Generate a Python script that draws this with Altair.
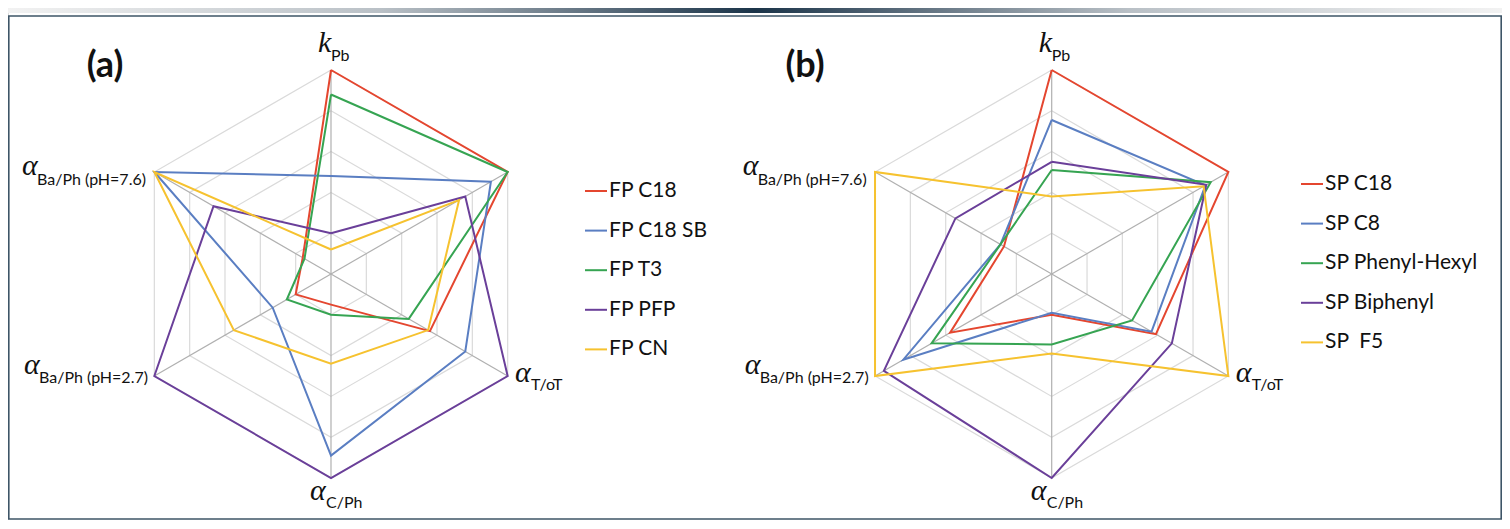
import altair as alt
import pandas as pd
import numpy as np

# ---------------- data ----------------
axis_names = ["k_Pb", "alpha_CH2", "alpha_T/oT", "alpha_C/Ph",
              "alpha_Ba/Ph (pH=2.7)", "alpha_Ba/Ph (pH=7.6)"]

series_a = ["FP C18", "FP C18 SB", "FP T3", "FP PFP", "FP CN"]
fp_c18 = [1.00, 1.00, 0.56, 0.15, 0.20, 0.16]
fp_c18sb = [0.48, 0.905, 0.76, 0.89, 0.33, 1.00]
fp_t3 = [0.88, 1.00, 0.44, 0.20, 0.25, 0.15]
fp_pfp = [0.20, 0.76, 1.00, 1.00, 1.00, 0.665]
fp_cn = [0.12, 0.725, 0.55, 0.44, 0.55, 1.00]
values_a = [fp_c18, fp_c18sb, fp_t3, fp_pfp, fp_cn]

series_b = ["SP C18", "SP C8", "SP Phenyl-Hexyl", "SP Biphenyl", "SP\u00a0\u00a0F5"]
sp_c18 = [1.00, 1.00, 0.59, 0.20, 0.575, 0.27]
sp_c8 = [0.755, 0.87, 0.565, 0.19, 0.84, 0.29]
sp_phenylhexyl = [0.51, 0.90, 0.455, 0.345, 0.68, 0.29]
sp_biphenyl = [0.55, 0.875, 0.68, 1.00, 0.95, 0.545]
sp_f5 = [0.38, 0.86, 1.00, 0.39, 1.00, 1.00]
values_b = [sp_c18, sp_c8, sp_phenylhexyl, sp_biphenyl, sp_f5]

# axis labels: (symbol, subscript) per axis; upper-right axis is unlabeled
axis_symbols = ["k", "", "α", "α", "α", "α"]
axis_subs = ["Pb", "", "T/oT", "C/Ph", "Ba/Ph (pH=2.7)", "Ba/Ph (pH=7.6)"]

ring_levels = [0.2, 0.4, 0.6, 0.8, 1.0]
panel_tags = ["(a)", "(b)"]

# ---------------- layout / style ----------------
W, H = 1494, 512
R = 204
centers = [(331.0, 274.0), (1051.7, 274.0)]
colors = ["#e4462f", "#5a7ec2", "#36a452", "#6a3f99", "#f6c22f"]
angles = np.deg2rad(90 - 60 * np.arange(6))
# label offsets from centre in px (symbol left/baseline, subscript left/baseline)
label_off = {
    0: ((-13, -222), (0, -213)),
    2: ((184, 108), (200, 116)),
    3: ((-21, 226), (-5, 234)),
    4: ((-307, 100), (-292, 109)),
    5: ((-309, -99), (-294, -89)),
}
legend_pos = [(585, 191), (1301, 184)]
legend_step = 39.6
tag_pos = [(105, 66), (805, 66)]

# ---------------- build tables ----------------
line_rows, ring_rows, spoke_rows, lab_rows, leg_rows, tag_rows = [], [], [], [], [], []
for p, (names, vals) in enumerate([(series_a, values_a), (series_b, values_b)]):
    cx, cy = centers[p]
    for s, (name, v) in enumerate(zip(names, vals)):
        for k in range(7):
            i = k % 6
            line_rows.append(dict(series=name, sidx=p * 10 + s, order=k,
                                  x=cx + v[i] * R * np.cos(angles[i]),
                                  y=cy - v[i] * R * np.sin(angles[i])))
        lx, ly = legend_pos[p]
        leg_rows.append(dict(series=name, x=lx, x2=lx + 22, xt=lx + 24,
                             y=ly + s * legend_step))
    for lev in ring_levels:
        for k in range(7):
            i = k % 6
            ring_rows.append(dict(ring=f"{p}-{lev}", order=k,
                                  x=cx + lev * R * np.cos(angles[i]),
                                  y=cy - lev * R * np.sin(angles[i])))
    for i in range(6):
        spoke_rows.append(dict(x=cx, y=cy, x2=cx + R * np.cos(angles[i]),
                               y2=cy - R * np.sin(angles[i])))
        if axis_symbols[i]:
            (sx, sy), (bx, by) = label_off[i]
            lab_rows.append(dict(sym=axis_symbols[i], sub=axis_subs[i],
                                 x=cx + sx, y=cy + sy, xs=cx + bx, ys=cy + by))
    tag_rows.append(dict(tag=panel_tags[p], x=tag_pos[p][0], y=tag_pos[p][1]))

lines = pd.DataFrame(line_rows)
rings = pd.DataFrame(ring_rows)
spokes = pd.DataFrame(spoke_rows)
labs = pd.DataFrame(lab_rows)
legs = pd.DataFrame(leg_rows)
tags = pd.DataFrame(tag_rows)

xs = alt.Scale(domain=[8, 8 + W], nice=False, zero=False)
ys = alt.Scale(domain=[8 + H, 8], nice=False, zero=False)
X = lambda f: alt.X(f, type="quantitative", scale=xs, axis=None)
Y = lambda f: alt.Y(f, type="quantitative", scale=ys, axis=None)

all_series = series_a + series_b
color = alt.Color("series:N", scale=alt.Scale(domain=all_series, range=colors * 2), legend=None)

band = alt.Chart(pd.DataFrame({"a": [0]})).mark_rect(
    color=alt.Gradient(gradient="linear", x1=0, x2=1, y1=0, y2=0,
                       stops=[alt.GradientStop(offset=0, color="#f2f2f2"),
                              alt.GradientStop(offset=0.25, color="#b9c0c6"),
                              alt.GradientStop(offset=0.5, color="#1b3449"),
                              alt.GradientStop(offset=0.75, color="#b9c0c6"),
                              alt.GradientStop(offset=1, color="#f2f2f2")])
).encode(x=alt.value(0), x2=alt.value(W), y=alt.value(0), y2=alt.value(5))

frame = alt.Chart(pd.DataFrame({"a": [0]})).mark_rect(
    fillOpacity=0, stroke="#3e5567", strokeWidth=1.6
).encode(x=alt.value(0.8), x2=alt.value(W - 0.8), y=alt.value(8), y2=alt.value(H - 1))

ring_layer = alt.Chart(rings).mark_line(color="#dadada", strokeWidth=1.2).encode(
    x=X("x"), y=Y("y"), detail="ring:N", order="order:Q")
spoke_layer = alt.Chart(spokes).mark_rule(color="#b0b0b0", strokeWidth=1.2).encode(
    x=X("x"), y=Y("y"), x2="x2:Q", y2="y2:Q")
series_layer = alt.Chart(lines).mark_line(strokeWidth=2).encode(
    x=X("x"), y=Y("y"), color=color, detail="sidx:N", order="order:Q")

sym_layer = alt.Chart(labs).mark_text(
    font="Liberation Serif", fontStyle="italic", fontSize=30, align="left",
    baseline="alphabetic", color="#111111").encode(x=X("x"), y=Y("y"), text="sym:N")
sub_layer = alt.Chart(labs).mark_text(
    font="Lato", fontSize=16, align="left", baseline="alphabetic",
    color="#111111").encode(x=X("xs"), y=Y("ys"), text="sub:N")

leg_rule = alt.Chart(legs).mark_rule(strokeWidth=2).encode(
    x=X("x"), x2="x2:Q", y=Y("y"), color=color)
leg_text = alt.Chart(legs).mark_text(
    font="Lato", fontSize=21, align="left", baseline="middle", color="#111111"
).encode(x=X("xt"), y=Y("y"), text="series:N")

tag_layer = alt.Chart(tags).mark_text(
    font="Lato", fontSize=36, fontWeight="bold", align="center", baseline="middle",
    color="#111111").encode(x=X("x"), y=Y("y"), text="tag:N")

chart = alt.layer(
    band, frame, ring_layer, spoke_layer, series_layer,
    sym_layer, sub_layer, leg_rule, leg_text, tag_layer
).properties(width=W, height=H, padding=0, autosize=alt.AutoSizeParams(type="none")
).configure_view(stroke=None).configure(background="white")

chart.save("out.html", embed_options={"renderer": "svg", "actions": False})
